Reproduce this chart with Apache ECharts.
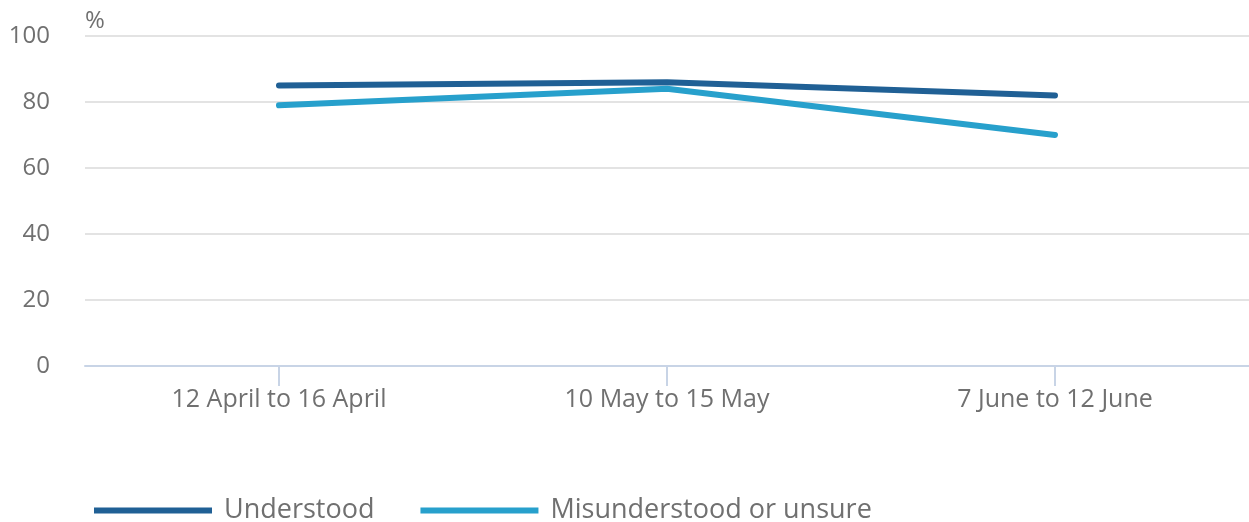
<!DOCTYPE html>
<html><head><meta charset="utf-8">
<script src="https://cdn.jsdelivr.net/npm/echarts@6/dist/echarts.min.js"></script>
<style>html,body{margin:0;padding:0;background:#fff}#c{width:1249px;height:522px}</style>
</head><body><div id="c"></div>
<script>
const categories = ['12 April to 16 April', '10 May to 15 May', '7 June to 12 June'];
const understood = [85, 86, 82];
const misunderstood = [79, 84, 70];
const yTicks = [0, 20, 40, 60, 80, 100];

const chart = echarts.init(document.getElementById('c'), null, {renderer: 'canvas'});
const font = '"Open Sans", sans-serif';
const txt = '#707070';
chart.setOption({
  animation: false,
  grid: {left: 85, right: -6, top: 36, bottom: 156, containLabel: false},
  legend: {
    left: 89, top: 492, itemWidth: 118, itemHeight: 6, itemGap: 46,
    icon: 'rect',
    textStyle: {fontFamily: font, fontSize: 27, color: txt, padding: [0, 0, 0, 7]},
    data: ['Understood', 'Misunderstood or unsure']
  },
  xAxis: {
    type: 'category', data: categories, boundaryGap: true,
    axisLine: {lineStyle: {color: '#c8d4e6', width: 2}},
    axisTick: {show: true, length: 20, alignWithLabel: true, lineStyle: {color: '#c8d4e6', width: 2}},
    axisLabel: {fontFamily: font, fontSize: 25, color: txt, margin: 21, interval: 0}
  },
  yAxis: {
    type: 'value', min: yTicks[0], max: yTicks[yTicks.length - 1], interval: 20,
    name: '%', nameLocation: 'end', nameGap: 3,
    nameTextStyle: {fontFamily: font, fontSize: 24, color: txt, align: 'left', padding: [0, 0, 0, 0]},
    axisLine: {show: false}, axisTick: {show: false},
    axisLabel: {fontFamily: font, fontSize: 24, color: txt, margin: 35},
    splitLine: {lineStyle: {color: '#e3e3e3', width: 2}}
  },
  series: [
    {name: 'Understood', type: 'line', data: understood, symbol: 'none',
     lineStyle: {color: '#206095', width: 6, cap: 'round', join: 'round'}, itemStyle: {color: '#206095'}},
    {name: 'Misunderstood or unsure', type: 'line', data: misunderstood, symbol: 'none',
     lineStyle: {color: '#27a0cc', width: 6, cap: 'round', join: 'round'}, itemStyle: {color: '#27a0cc'}}
  ]
});
</script></body></html>
